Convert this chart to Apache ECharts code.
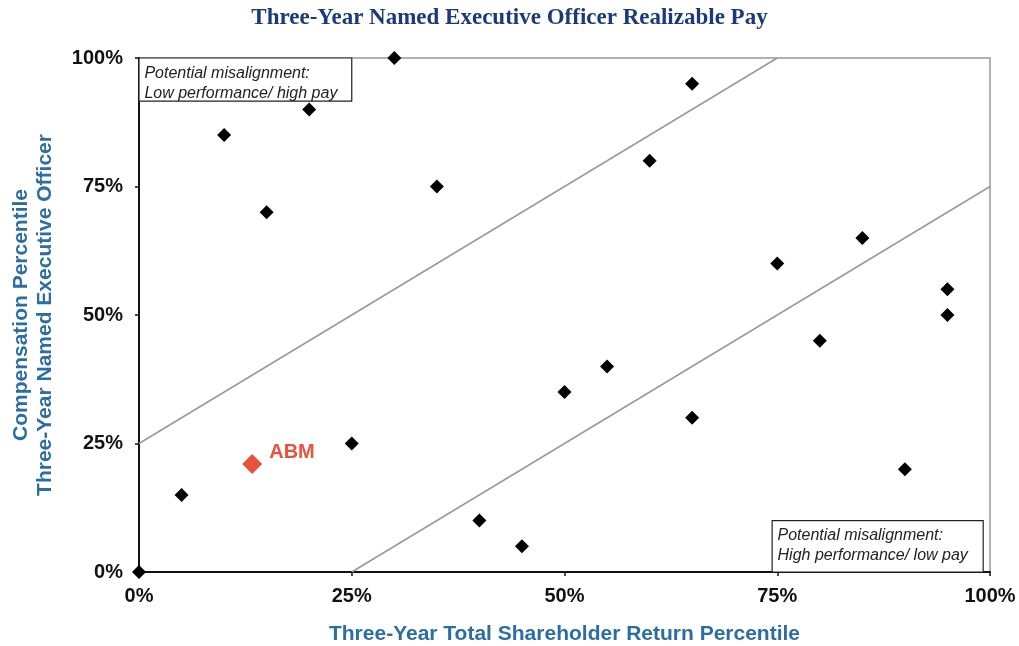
<!DOCTYPE html>
<html><head><meta charset="utf-8">
<script src="https://cdn.jsdelivr.net/npm/echarts@6/dist/echarts.min.js"></script>
<style>html,body{margin:0;padding:0;background:#fff}#c{width:1019px;height:646px}</style>
</head><body><div id="c"></div>
<script>
const peerTSR  = [0, 5, 10, 15, 20, 30, 35, 25, 40, 45, 50, 55, 60, 65, 65, 75, 80, 85, 90, 95, 95];
const peerComp = [0, 15, 85, 70, 90, 100, 75, 25, 10, 5, 35, 40, 80, 95, 30, 60, 45, 65, 20, 55, 50];
const abm = [13.3, 21];
const upperBand = [[0, 25], [75, 100]];
const lowerBand = [[25, 0], [100, 75]];
const ticks = [0, 25, 50, 75, 100];
const boxLow = [[0, 100], [25, 91.6]];
const boxHigh = [[74.4, 10], [99.2, 0]];

const chart = echarts.init(document.getElementById('c'));
const axisCommon = {
  type: 'value', min: 0, max: 100, interval: 25,
  axisLine: {show: true, lineStyle: {color: '#111', width: 2}},
  axisTick: {show: true, length: 4, lineStyle: {color: '#111', width: 1.5}},
  splitLine: {show: false},
  axisLabel: {formatter: '{value}%', color: '#111', fontFamily: 'Liberation Sans, Arial', fontWeight: 'bold', fontSize: 20},
  nameTextStyle: {color: '#2c6da3', fontFamily: 'Liberation Sans, Arial', fontWeight: 'bold', fontSize: 21}
};
chart.setOption({
  animation: false,
  title: {text: 'Three-Year Named Executive Officer Realizable Pay', left: 'center', top: 2,
    textStyle: {fontFamily: 'Liberation Serif, Times New Roman', fontWeight: 'bold', fontSize: 23, color: '#1b3a7c'}},
  grid: {left: 139, right: 29, top: 58, bottom: 74, show: true, borderColor: '#999', borderWidth: 1.5, outerBoundsMode: 'none', containLabel: false},
  xAxis: Object.assign({}, axisCommon, {
    name: 'Three-Year Total Shareholder Return Percentile', nameLocation: 'middle', nameGap: 52,
    axisLabel: Object.assign({}, axisCommon.axisLabel, {margin: 14})
  }),
  yAxis: Object.assign({}, axisCommon, {
    name: 'Compensation Percentile\nThree-Year Named Executive Officer', nameLocation: 'middle', nameGap: 82, nameRotate: 90,
    nameTextStyle: Object.assign({}, axisCommon.nameTextStyle, {lineHeight: 24}),
    axisLabel: Object.assign({}, axisCommon.axisLabel, {margin: 16})
  }),
  series: [
    {type: 'line', data: upperBand, symbol: 'none', lineStyle: {color: '#999', width: 1.5}, z: 1},
    {type: 'line', data: lowerBand, symbol: 'none', lineStyle: {color: '#999', width: 1.5}, z: 1},
    {type: 'scatter', data: peerTSR.map((x, i) => [x, peerComp[i]]), symbol: 'diamond', symbolSize: 14,
      itemStyle: {color: '#000', opacity: 1}, z: 5,
      markArea: {silent: true,
        itemStyle: {color: '#fff', borderColor: '#222', borderWidth: 1.2, opacity: 1},
        label: {show: true, position: 'insideTopLeft', color: '#222', fontFamily: 'Liberation Sans, Arial', fontStyle: 'italic', fontSize: 16, lineHeight: 20, distance: 6},
        data: [
          [{coord: boxLow[0], name: 'Potential misalignment:\nLow performance/ high pay'}, {coord: boxLow[1]}],
          [{coord: boxHigh[0], name: 'Potential misalignment:\nHigh performance/ low pay'}, {coord: boxHigh[1]}]
        ]}
    },
    {type: 'scatter', data: [abm], symbol: 'diamond', symbolSize: 20, itemStyle: {color: '#e8533c', opacity: 1}, z: 6,
      label: {show: true, formatter: 'ABM', position: 'right', offset: [2, -12], color: '#e8533c',
        fontFamily: 'Liberation Sans, Arial', fontWeight: 'bold', fontSize: 20}}
  ]
});
</script></body></html>
